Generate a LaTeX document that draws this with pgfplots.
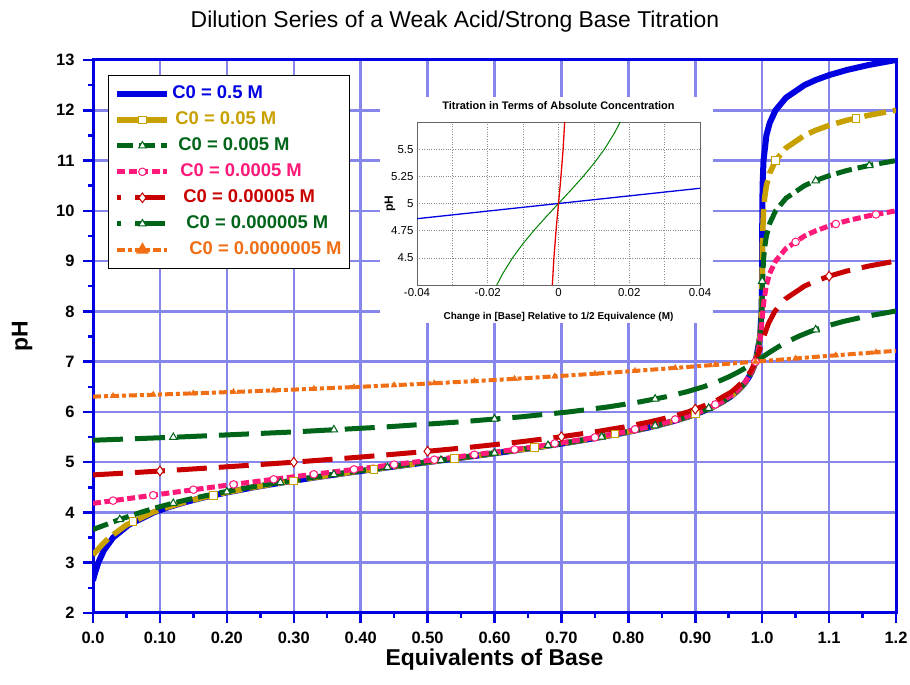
\documentclass[border=0pt]{standalone}
\usepackage{fontspec}
\setmainfont{Liberation Sans}
\usepackage{pgfplots}
\pgfplotsset{compat=1.18}

\definecolor{mainblue}{RGB}{0,0,225}
\definecolor{gridblue}{RGB}{135,135,235}
\definecolor{gold}{RGB}{200,160,0}
\definecolor{dgreen}{RGB}{0,100,25}
\definecolor{hotpink}{RGB}{255,25,120}
\definecolor{dred}{RGB}{200,0,0}
\definecolor{orng}{RGB}{240,110,20}

\begin{document}
\begin{tikzpicture}[x=1bp,y=1bp]
\useasboundingbox (0,0) rectangle (910,685);
\begin{axis}[
  at={(93bp,72bp)}, anchor=south west,
  scale only axis, width=803bp, height=553bp,
  xmin=0, xmax=1.2, ymin=2, ymax=13,
  xtick={0,0.1,0.2,0.3,0.4,0.5,0.6,0.7,0.8,0.9,1.0,1.1,1.2},
  xticklabels={0.0,0.10,0.20,0.30,0.40,0.50,0.60,0.70,0.80,0.90,1.0,1.1,1.2},
  ytick={2,3,4,5,6,7,8,9,10,11,12,13},
  yticklabels={2,3,4,5,6,7,8,9,10,11,12,13},
  minor x tick num=1, minor y tick num=1,
  tick align=outside, tick pos=left,
  major tick length=10bp, minor tick length=5bp,
  tick style={mainblue, line width=2.5bp},
  axis line style={mainblue, line width=3bp},
  grid=major, grid style={gridblue, line width=2.5bp},
  ticklabel style={font=\bfseries\fontsize{16.5}{16.5}\selectfont},
  xticklabel style={yshift=-6bp},
  yticklabel style={xshift=-5bp},
  title={Dilution Series of a Weak Acid/Strong Base Titration},
  title style={at={(axis description cs:0.5,1)}, anchor=center, yshift=32bp, xshift=-39.5bp,
    font=\fontsize{23}{23}\selectfont},
  xlabel={Equivalents of Base},
  xlabel style={at={(axis description cs:0.5,0)}, anchor=center, yshift=-47bp,
    font=\bfseries\fontsize{23}{23}\selectfont},
  ylabel={pH},
  ylabel style={at={(axis description cs:0,0.5)}, anchor=center, yshift=71bp,
    font=\bfseries\fontsize{23}{23}\selectfont},
  legend image code/.code={\draw[mark repeat=2,mark phase=2] plot coordinates {(0bp,0bp) (25bp,0bp) (50bp,0bp)};},
  legend cell align=left,
  legend style={at={(0.0187,0.973)}, anchor=north west, draw=black, line width=0.8bp,
    fill=white, font=\bfseries\fontsize{18.5}{18.5}\selectfont, row sep=5bp,
    inner xsep=6bp, inner ysep=8bp,
    nodes={inner sep=2bp, text height=13bp, text depth=4bp}},
]
% C0 = 0.5 M
\addplot[mainblue, line width=6bp, forget plot] coordinates {
(0,2.64) (0.001,2.7) (0.0031,2.8) (0.0079,3.0) (0.0164,3.25) (0.03,3.5) (0.053,3.75) (0.0907,4.0)
(0.1117,4.1) (0.1367,4.2) (0.1509,4.25) (0.1662,4.3) (0.2007,4.4) (0.2402,4.5) (0.2847,4.6)
(0.3339,4.7) (0.3869,4.8) (0.4427,4.9) (0.5,5.0) (0.5573,5.1) (0.6131,5.2) (0.6661,5.3)
(0.7152,5.4) (0.7597,5.5) (0.7992,5.6) (0.8337,5.7) (0.8632,5.8) (0.8882,5.9) (0.9091,6.0)
(0.9264,6.1) (0.9406,6.2) (0.9523,6.3) (0.9617,6.4) (0.9693,6.5) (0.9755,6.6) (0.9804,6.7)
(0.9844,6.8) (0.9876,6.9) (0.9901,7.0) (0.9969,7.5) (0.999,8.0) (0.9997,8.5) (0.9999,9.0)
(1.0,9.5) (1.0002,10.0) (1.0006,10.5) (1.002,11.0) (1.0063,11.5) (1.0113,11.75) (1.02,12.0)
(1.0356,12.25) (1.0632,12.5) (1.0796,12.6) (1.1002,12.7) (1.1262,12.8) (1.1589,12.9) (1.2,13.0)
};
% C0 = 0.05 M
\addplot[gold, line width=5.5bp, dash pattern=on 22bp off 7bp, forget plot] coordinates {
(0,3.155) (0.0062,3.25) (0.013,3.35) (0.0243,3.5) (0.0498,3.75) (0.0889,4.0) (0.1102,4.1)
(0.1355,4.2) (0.1499,4.25) (0.1653,4.3) (0.1999,4.4) (0.2396,4.5) (0.2843,4.6) (0.3335,4.7)
(0.3866,4.8) (0.4424,4.9) (0.4998,5.0) (0.5572,5.1) (0.613,5.2) (0.666,5.3) (0.7152,5.4)
(0.7597,5.5) (0.7992,5.6) (0.8336,5.7) (0.8632,5.8) (0.8882,5.9) (0.9091,6.0) (0.9264,6.1)
(0.9406,6.2) (0.9523,6.3) (0.9617,6.4) (0.9693,6.5) (0.9755,6.6) (0.9804,6.7) (0.9844,6.8)
(0.9876,6.9) (0.9901,7.0) (0.9969,7.5) (0.999,8.0) (0.9997,8.5) (1.0001,9.0) (1.0006,9.5)
(1.002,10.0) (1.0036,10.25) (1.0063,10.5) (1.0113,10.75) (1.02,11.0) (1.0356,11.25)
(1.0632,11.5) (1.0796,11.6) (1.1002,11.7) (1.1262,11.8) (1.1589,11.9) (1.2,12.0)
};
\addplot[only marks, mark=square*, mark size=3.8bp, gold, fill=white, line width=1bp, forget plot] coordinates {
(0.06,3.815) (0.18,4.334) (0.30,4.626) (0.42,4.858) (0.54,5.072) (0.66,5.292) (0.78,5.557)
(0.90,5.96) (1.02,11.0) (1.14,11.842)
};
% C0 = 0.005 M
\addplot[dgreen, line width=5bp, dash pattern=on 16bp off 6bp, forget plot] coordinates {
(0,3.66) (0.0078,3.7) (0.0178,3.75) (0.0379,3.85) (0.0709,4.0) (0.0959,4.1) (0.1242,4.2)
(0.1397,4.25) (0.1563,4.3) (0.1928,4.4) (0.2339,4.5) (0.2797,4.6) (0.3299,4.7) (0.3837,4.8)
(0.4402,4.9) (0.498,5.0) (0.5557,5.1) (0.6119,5.2) (0.6651,5.3) (0.7145,5.4) (0.7591,5.5)
(0.7987,5.6) (0.8333,5.7) (0.8629,5.8) (0.8879,5.9) (0.9089,6.0) (0.9263,6.1) (0.9405,6.2)
(0.9522,6.3) (0.9617,6.4) (0.9693,6.5) (0.9755,6.6) (0.9804,6.7) (0.9844,6.8) (0.9876,6.9)
(0.9901,7.0) (0.9969,7.5) (0.9992,8.0) (1.0003,8.5) (1.0019,9.0) (1.0035,9.25) (1.0063,9.5)
(1.0113,9.75) (1.02,10.0) (1.0356,10.25) (1.0632,10.5) (1.0796,10.6) (1.1002,10.7)
(1.1262,10.8) (1.1589,10.9) (1.2,11.0)
};
\addplot[only marks, mark=triangle*, mark size=4.3bp, dgreen, fill=white, line width=1bp, forget plot] coordinates {
(0.04,3.86) (0.12,4.182) (0.20,4.41) (0.28,4.594) (0.36,4.756) (0.44,4.898) (0.52,5.039)
(0.60,5.181) (0.68,5.335) (0.76,5.502) (0.84,5.726) (0.92,6.074) (1.00,8.6) (1.08,10.6)
(1.16,10.9)
};
% C0 = 0.0005 M
\addplot[hotpink, line width=5bp, dash pattern=on 8bp off 3.5bp, forget plot] coordinates {
(0,4.18) (0.0106,4.2) (0.0385,4.25) (0.0661,4.3) (0.1211,4.4) (0.177,4.5) (0.2345,4.6)
(0.294,4.7) (0.3244,4.75) (0.3552,4.8) (0.4175,4.9) (0.48,5.0) (0.5414,5.1) (0.6005,5.2)
(0.6561,5.3) (0.7073,5.4) (0.7534,5.5) (0.7942,5.6) (0.8297,5.7) (0.86,5.8) (0.8857,5.9)
(0.9071,6.0) (0.9394,6.2) (0.9609,6.4) (0.9751,6.6) (0.9842,6.8) (0.9901,7.0) (0.9947,7.25)
(0.9974,7.5) (0.9993,7.75) (1.001,8.0) (1.003,8.25) (1.006,8.5) (1.0111,8.75) (1.0199,9.0)
(1.0355,9.25) (1.0632,9.5) (1.0796,9.6) (1.1002,9.7) (1.1262,9.8) (1.1589,9.9) (1.2,10.0)
};
\addplot[only marks, mark=*, mark size=3.8bp, hotpink, fill=white, line width=1bp, forget plot] coordinates {
(0.03,4.235) (0.09,4.343) (0.15,4.452) (0.21,4.557) (0.27,4.659) (0.33,4.759) (0.39,4.856)
(0.45,4.952) (0.51,5.049) (0.57,5.149) (0.63,5.252) (0.69,5.373) (0.75,5.493) (0.81,5.654)
(0.87,5.85) (0.93,6.149) (0.99,6.997) (1.05,9.381) (1.11,9.738) (1.17,9.929)
};
% C0 = 0.00005 M
\addplot[dred, line width=5bp, dash pattern=on 30bp off 12bp, forget plot] coordinates {
(0,4.747) (0.0043,4.75) (0.0699,4.8) (0.132,4.85) (0.1909,4.9) (0.2468,4.95) (0.3,5.0)
(0.3985,5.1) (0.4869,5.2) (0.5659,5.3) (0.6356,5.4) (0.6965,5.5) (0.749,5.6) (0.7938,5.7)
(0.8315,5.8) (0.863,5.9) (0.8893,6.0) (0.9284,6.2) (0.9543,6.4) (0.9713,6.6) (0.9825,6.8)
(0.9901,7.0) (0.9968,7.25) (1.0025,7.5) (1.0091,7.75) (1.0188,8.0) (1.035,8.25) (1.0629,8.5)
(1.0794,8.6) (1.1,8.7) (1.126,8.8) (1.1588,8.9) (1.2,9.0)
};
\addplot[only marks, mark=diamond*, mark size=4.8bp, dred, fill=white, line width=1bp, forget plot] coordinates {
(0.1,4.825) (0.3,5.0) (0.5,5.217) (0.7,5.507) (0.9,6.055) (1.1,8.7)
};
% C0 = 0.000005 M
\addplot[dgreen, line width=5bp, dash pattern=on 30bp off 12bp, forget plot] coordinates {
(0,5.437) (0.0079,5.44) (0.0693,5.47) (0.128,5.5) (0.2977,5.6) (0.4357,5.7) (0.5475,5.8)
(0.638,5.9) (0.7111,6.0) (0.7701,6.1) (0.8176,6.2) (0.856,6.3) (0.8871,6.4) (0.9124,6.5)
(0.9332,6.6) (0.9506,6.7) (0.9653,6.8) (0.9783,6.9) (0.9901,7.0) (1.0014,7.1) (1.0128,7.2)
(1.0249,7.3) (1.0383,7.4) (1.0538,7.5) (1.0721,7.6) (1.0943,7.7) (1.1215,7.8) (1.1551,7.9)
(1.197,8.0) (1.2,8.005)
};
\addplot[only marks, mark=triangle*, mark size=4.3bp, dgreen, fill=white, line width=1bp, forget plot] coordinates {
(0.12,5.496) (0.36,5.645) (0.60,5.858) (0.84,6.258) (1.08,7.636)
};
% C0 = 0.0000005 M
\addplot[orng, line width=4bp, dash pattern=on 8bp off 3bp on 4bp off 3bp, forget plot] coordinates {
(0,6.304) (0.1086,6.35) (0.2157,6.4) (0.3125,6.45) (0.4001,6.5) (0.48,6.55) (0.5527,6.6)
(0.6197,6.65) (0.6816,6.7) (0.7394,6.75) (0.7936,6.8) (0.8451,6.85) (0.8947,6.9) (0.9428,6.95)
(0.9901,7.0) (1.0373,7.05) (1.085,7.1) (1.134,7.15) (1.1845,7.2) (1.2,7.215)
};
\addplot[only marks, mark=triangle*, mark size=3.5bp, orng, forget plot] coordinates {
(0.03,6.317) (0.09,6.342) (0.15,6.369) (0.21,6.397) (0.27,6.428) (0.33,6.46) (0.39,6.494)
(0.45,6.531) (0.51,6.571) (0.57,6.613) (0.63,6.658) (0.69,6.707) (0.75,6.76) (0.81,6.816)
(0.87,6.875) (0.93,6.937) (0.99,7.0) (1.05,7.063) (1.11,7.126) (1.17,7.186)
};
% legend
\addlegendimage{mainblue, line width=6bp}
\addlegendentry[text=mainblue]{C0 = 0.5 M}
\addlegendimage{gold, line width=5.5bp, mark=square*, mark size=3.8bp, mark options={fill=white, line width=1bp}}
\addlegendentry[text=gold]{\hspace*{3bp}C0 = 0.05 M}
\addlegendimage{dgreen, line width=5bp, dash pattern=on 16bp off 6bp, mark=triangle*, mark size=4.3bp, mark options={solid, fill=white, line width=1bp}}
\addlegendentry[text=dgreen]{\hspace*{6bp}C0 = 0.005 M}
\addlegendimage{hotpink, line width=5bp, dash pattern=on 8bp off 3.5bp, mark=*, mark size=3.8bp, mark options={solid, fill=white, line width=1bp}}
\addlegendentry[text=hotpink]{\hspace*{8bp}C0 = 0.0005 M}
\addlegendimage{dred, line width=5bp, dash pattern=on 4bp off 14bp on 30bp off 12bp, mark=diamond*, mark size=4.8bp, mark options={solid, fill=white, line width=1bp}}
\addlegendentry[text=dred]{\hspace*{11bp}C0 = 0.00005 M}
\addlegendimage{dgreen, line width=5bp, dash pattern=on 4bp off 14bp on 30bp off 12bp, mark=triangle*, mark size=4.3bp, mark options={solid, fill=white, line width=1bp}}
\addlegendentry[text=dgreen]{\hspace*{14bp}C0 = 0.000005 M}
\addlegendimage{orng, line width=4bp, dash pattern=on 8bp off 3bp on 4bp off 3bp, mark=triangle*, mark size=3.5bp, mark options={solid}}
\addlegendentry[text=orng]{\hspace*{17bp}C0 = 0.0000005 M}
\end{axis}

\fill[white] (380,362) rectangle (713,588);

\begin{axis}[
  at={(417bp,400bp)}, anchor=south west,
  scale only axis, width=283bp, height=163bp,
  xmin=-0.04, xmax=0.04, ymin=4.25, ymax=5.75,
  scaled x ticks=false,
  axis line style={black!60, line width=0.8bp},
  xtick={-0.04,-0.02,0,0.02,0.04}, xticklabels={-0.04,-0.02,0,0.02,0.04},
  minor xtick={-0.03,-0.01,0.01,0.03},
  ytick={4.5,4.75,5,5.25,5.5}, yticklabels={4.5,4.75,5,5.25,5.5},
  grid=both,
  grid style={black!45, dotted, line width=0.6bp},
  minor grid style={black!45, dotted, line width=0.6bp},
  major tick length=0pt, minor tick length=0pt,
  ticklabel style={font=\fontsize{11.5}{11.5}\selectfont},
  title={Titration in Terms of Absolute Concentration},
  title style={at={(axis description cs:0.5,1)}, anchor=center, yshift=10bp,
    font=\bfseries\fontsize{11}{11}\selectfont},
  xlabel={Change in [Base] Relative to 1/2 Equivalence (M)},
  xlabel style={at={(axis description cs:0.5,0)}, anchor=center, yshift=-32bp,
    font=\bfseries\fontsize{10}{10}\selectfont},
  ylabel={pH},
  ylabel style={at={(axis description cs:0,0.5)}, anchor=center, yshift=27bp,
    font=\bfseries\fontsize{12}{12}\selectfont},
]
\addplot[mainblue, line width=1.3bp] coordinates {
(-0.04,4.86) (-0.02,4.93) (0,5.0) (0.02,5.07) (0.04,5.14)
};
\addplot[green!50!black, line width=1bp] coordinates {
(-0.01745,4.25) (-0.01585,4.35) (-0.01299,4.5) (-0.01017,4.625) (-0.007,4.75) (-0.00357,4.875)
(0,5.0) (0.00357,5.125) (0.007,5.25) (0.01017,5.375) (0.01299,5.5) (0.01585,5.65) (0.01745,5.75)
};
\addplot[red!90!black, line width=1.3bp] coordinates {
(-0.001745,4.25) (-0.001299,4.5) (-0.0007,4.75) (0,5.0) (0.0007,5.25) (0.001299,5.5) (0.001745,5.75)
};
\end{axis}
\end{tikzpicture}
\end{document}
